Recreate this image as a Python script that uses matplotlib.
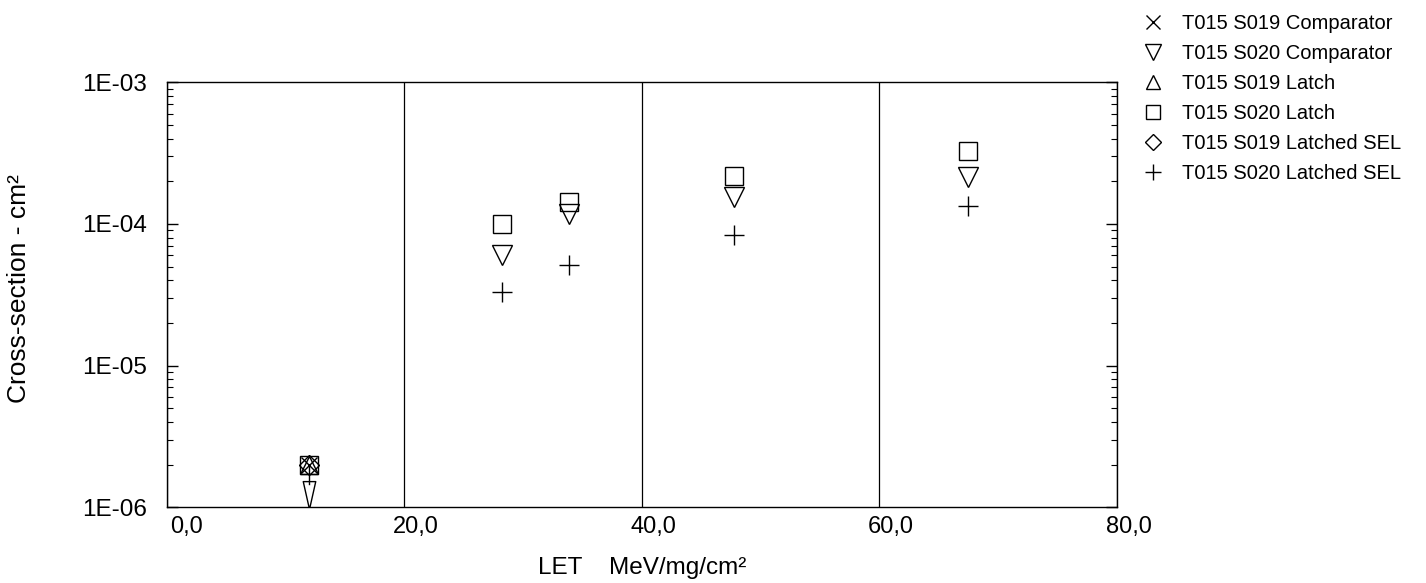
import numpy as np
import matplotlib
matplotlib.use("Agg")
import matplotlib.pyplot as plt
from matplotlib.path import Path
from matplotlib.ticker import FixedLocator, FixedFormatter, LogLocator, NullFormatter
from matplotlib.transforms import ScaledTranslation

plt.rcParams["font.family"] = ["Liberation Sans", "DejaVu Sans"]

# ---------------------------------------------------------------------------
# Data (LET in MeV/mg/cm2, cross-section in cm2)
# ---------------------------------------------------------------------------
let_s019 = [12.0]
s019_comparator = [2.0e-6]
s019_latch = [2.0e-6]
s019_latched_sel = [2.0e-6]

let_s020 = [12.0, 28.2, 33.9, 47.8, 67.5]
s020_comparator = [np.nan, 6.0e-5, 1.17e-4, 1.55e-4, 2.13e-4]
s020_latch = [2.0e-6, 1.0e-4, 1.42e-4, 2.17e-4, 3.25e-4]
s020_latched_sel = [np.nan, 3.3e-5, 5.1e-5, 8.3e-5, 1.33e-4]

# upper limit for S020 comparator at the lowest LET (drawn as an arrow)
limit_let = [12.0]
limit_from = [2.0e-6]
limit_to = [1.22e-6]

x_ticks = [0, 20, 40, 60, 80]
x_labels = ["0,0", "20,0", "40,0", "60,0", "80,0"]
y_ticks = [1e-6, 1e-5, 1e-4, 1e-3]
y_labels = ["1E-06", "1E-05", "1E-04", "1E-03"]

# ---------------------------------------------------------------------------
fig = plt.figure(figsize=(14.26, 5.83), dpi=100)
ax = fig.add_axes([0.117, 0.130, 0.666, 0.729])

mk = dict(linestyle="none", markerfacecolor="none", markeredgecolor="black",
          markeredgewidth=1.0, color="black")

h1, = ax.plot(let_s019, s019_comparator, marker="x", markersize=12, label="T015 S019 Comparator", **mk)
h2, = ax.plot(let_s020, s020_comparator, marker="v", markersize=14, label="T015 S020 Comparator", **mk)
h3, = ax.plot(let_s019, s019_latch, marker="^", markersize=13, label="T015 S019 Latch", **mk)
h4, = ax.plot(let_s020, s020_latch, marker="s", markersize=13, label="T015 S020 Latch", **mk)
h5, = ax.plot(let_s019, s019_latched_sel, marker="D", markersize=10, label="T015 S019 Latched SEL", **mk)
h6, = ax.plot(let_s020, s020_latched_sel, marker="+", markersize=14, label="T015 S020 Latched SEL", **mk)

# arrow for the upper limit
arrow = Path([(-0.45, 1.0), (0.45, 1.0), (0.0, -1.0), (-0.45, 1.0)],
             [Path.MOVETO, Path.LINETO, Path.LINETO, Path.CLOSEPOLY])
for x, y0, y1 in zip(limit_let, limit_from, limit_to):
    ax.plot([x, x], [y0, y1 * 1.2], color="black", linewidth=1.0)
ax.plot(limit_let, limit_to, marker=arrow, markersize=20, **mk)

ax.set_yscale("log")
ax.set_xlim(0, 80)
ax.set_ylim(1e-6, 1e-3)

ax.xaxis.set_major_locator(FixedLocator(x_ticks))
ax.xaxis.set_major_formatter(FixedFormatter(x_labels))
ax.yaxis.set_major_locator(FixedLocator(y_ticks))
ax.yaxis.set_major_formatter(FixedFormatter(y_labels))
ax.yaxis.set_minor_locator(LogLocator(base=10, subs=np.arange(2, 10)))
ax.yaxis.set_minor_formatter(NullFormatter())

ax.tick_params(axis="x", length=0, labelsize=17, pad=6)
ax.tick_params(axis="y", which="major", direction="in", length=8, width=1.0,
               left=True, right=True, labelsize=17.5, pad=14)
ax.tick_params(axis="y", which="minor", direction="in", length=4, width=0.8,
               left=True, right=True)

# tick labels sit a bit to the right of their positions
for i, lab in enumerate(ax.get_xticklabels()):
    dx = 20 if i == 0 else 12
    lab.set_transform(lab.get_transform() + ScaledTranslation(dx / 100, 0, fig.dpi_scale_trans))

ax.grid(axis="x", color="black", linewidth=0.9)
for s in ax.spines.values():
    s.set_linewidth(1.0)

ax.set_xlabel("LET    MeV/mg/cm²", fontsize=17.5, labelpad=14)
ax.set_ylabel("Cross-section - cm²", fontsize=19)
ax.yaxis.set_label_coords(-0.143, 0.515)

fig.legend(handles=[h1, h2, h3, h4, h5, h6], loc="upper left",
           bbox_to_anchor=(0.789, 1.007), frameon=False, fontsize=14.5,
           labelspacing=0.55, handlelength=1.0, handletextpad=0.9,
           markerscale=0.8)

fig.savefig("out.png", dpi=100)
